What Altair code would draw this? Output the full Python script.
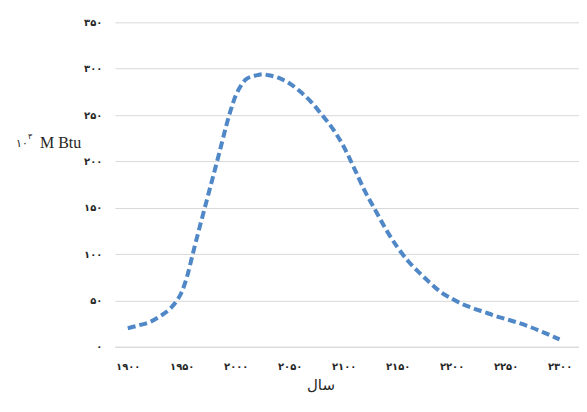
import altair as alt
import pandas as pd

# ---- data ----
years = [1900, 1910, 1920, 1930, 1940, 1945, 1950, 1955, 1960, 1965, 1970, 1975, 1980,
         1985, 1990, 1995, 2000, 2005, 2010, 2020, 2025, 2030, 2040, 2050, 2060,
         2070, 2080, 2090, 2100, 2110, 2120, 2130, 2140, 2150, 2160, 2170, 2180,
         2190, 2200, 2210, 2220, 2230, 2240, 2250, 2260, 2270, 2280, 2290, 2300]
values = [20, 23, 26.5, 33, 42, 49, 59, 76, 99, 122, 144, 166, 188,
          210, 233, 254, 271, 282, 289, 293, 294, 293, 290, 284, 275,
          264, 250, 235, 216, 192, 167, 146, 125, 107, 92, 80, 69,
          59, 52, 46, 41.5, 37.5, 33.5, 30, 26.5, 22.5, 18, 13, 8]

y_ticks = [0, 50, 100, 150, 200, 250, 300, 350]
y_tick_labels = ['۰', '۵۰', '۱۰۰', '۱۵۰', '۲۰۰', '۲۵۰', '۳۰۰', '۳۵۰']
x_ticks = [1900, 1950, 2000, 2050, 2100, 2150, 2200, 2250, 2300]
x_tick_labels = ['۱۹۰۰', '۱۹۵۰', '۲۰۰۰', '۲۰۵۰', '۲۱۰۰', '۲۱۵۰', '۲۲۰۰', '۲۲۵۰', '۲۳۰۰']
x_title = 'سال'
unit_base = ['۱۰']
unit_exp = ['۳']
unit_rest = ['M Btu']

SERIF = "Liberation Serif"
DIGITS = "DejaVu Sans"
LINE_COLOR = "#4f87c7"
GRID = "#d9d9d9"
TEXT = "#262626"


def label_expr(ticks, labels):
    expr = "''"
    for t, l in reversed(list(zip(ticks, labels))):
        expr = f"datum.value == {t} ? '{l}' : ({expr})"
    return expr


df = pd.DataFrame({"year": years, "value": values})

line = alt.Chart(df).mark_line(
    color=LINE_COLOR, strokeWidth=4, strokeDash=[8, 4], interpolate="monotone"
).encode(
    x=alt.X("year:Q",
            scale=alt.Scale(domain=[1888, 2318], nice=False, zero=False),
            axis=alt.Axis(values=x_ticks, labelExpr=label_expr(x_ticks, x_tick_labels),
                          grid=False, ticks=False, tickSize=0, domain=True,
                          domainColor=GRID, domainWidth=1,
                          labelFont=DIGITS, labelFontSize=10, labelColor=TEXT,
                          labelPadding=15, labelFontWeight="bold",
                          title=x_title, titleFont=DIGITS, titleFontSize=15,
                          titleFontWeight="normal", titleColor=TEXT,
                          titleX=206, titleY=38, titleBaseline="middle")),
    y=alt.Y("value:Q",
            scale=alt.Scale(domain=[0, 350], nice=False),
            axis=alt.Axis(values=y_ticks, labelExpr=label_expr(y_ticks, y_tick_labels),
                          grid=True, gridColor=GRID, gridWidth=1,
                          ticks=False, tickSize=0, domain=False,
                          labelFont=DIGITS, labelFontSize=10, labelColor=TEXT,
                          labelFontWeight="bold", labelPadding=13, title=None)),
)

base_txt = alt.Chart(pd.DataFrame({"t": unit_base})).mark_text(
    font=DIGITS, fontSize=11, color=TEXT, align="left", baseline="alphabetic"
).encode(x=alt.value(-99), y=alt.value(125), text="t:N")

exp_txt = alt.Chart(pd.DataFrame({"t": unit_exp})).mark_text(
    font=DIGITS, fontSize=8, color=TEXT, align="left", baseline="alphabetic"
).encode(x=alt.value(-87), y=alt.value(117), text="t:N")

rest_txt = alt.Chart(pd.DataFrame({"t": unit_rest})).mark_text(
    font=SERIF, fontSize=16, color=TEXT, align="left", baseline="alphabetic"
).encode(x=alt.value(-75), y=alt.value(126), text="t:N")

chart = alt.layer(line, base_txt, exp_txt, rest_txt).properties(
    width=465, height=325,
    autosize=alt.AutoSizeParams(type="none"),
    padding={"left": 107, "top": 14, "right": 0, "bottom": 55},
    background="white",
).configure_view(stroke=None)

chart.save("out.html", embed_options={"renderer": "svg", "actions": False})
